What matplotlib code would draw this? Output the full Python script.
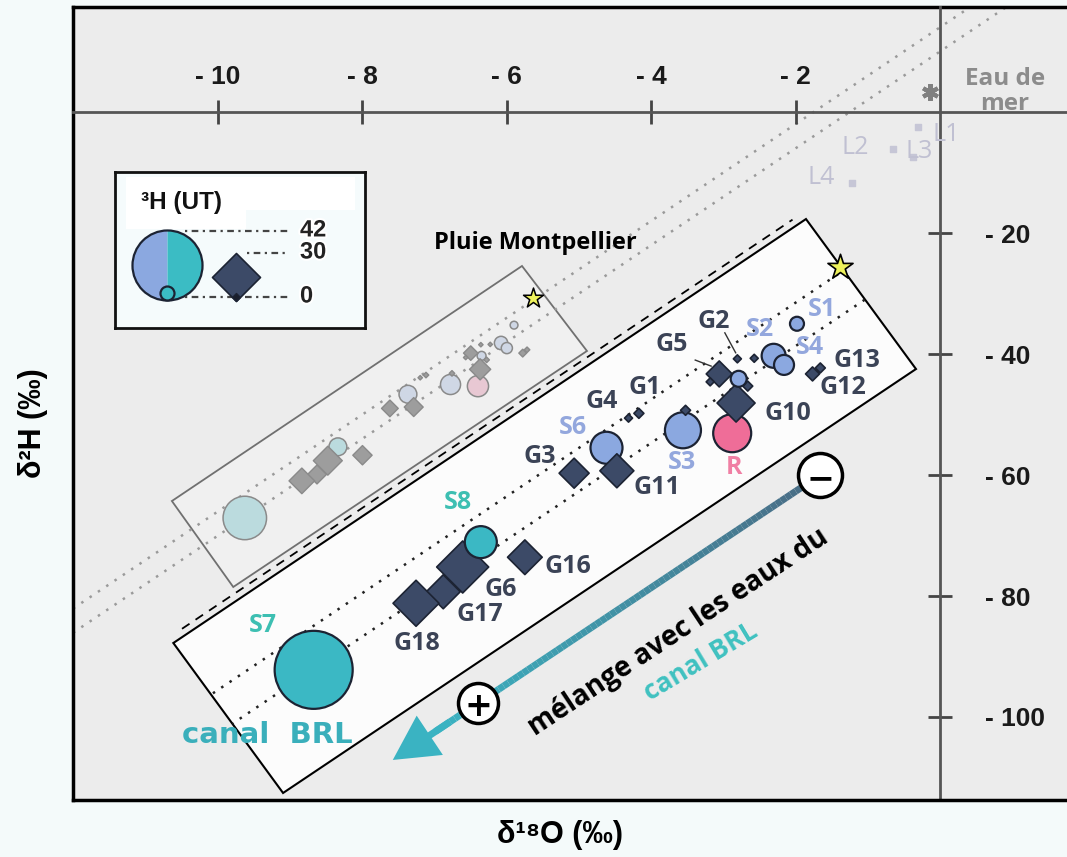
import numpy as np
import matplotlib
matplotlib.use('Agg')
import matplotlib.pyplot as plt
import matplotlib.patheffects as pe
from matplotlib.patches import Polygon, Rectangle, FancyArrowPatch
from matplotlib.collections import LineCollection
from matplotlib.colors import LinearSegmentedColormap, to_rgb
from matplotlib.ticker import FuncFormatter

# ---- data (delta values in permil, tritium in UT) ----
circle_names = ['S6', 'S3', 'R', 'S2', 'S4', 'S1', '', 'S8', 'S7']
circle_d18o = [-7.37, -6.78, -6.40, -6.08, -6.00, -5.90, -6.35, -8.34, -9.63]
circle_d2h = [-46.65, -45.04, -45.31, -38.18, -39.02, -35.23, -40.30, -55.34, -67.10]
circle_h3 = [13.5, 16.5, 18.0, 7.5, 4.5, 0.0, 1.5, 13.5, 48.0]
circle_group = ['S', 'S', 'R', 'S', 'S', 'S', 'S', 'BRL', 'BRL']

diamond_names = ['G1', 'G2', 'G3', 'G4', 'G5', 'G6', 'G10', 'G11', 'G12', 'G13',
                 'G16', 'G17', 'G18', '', '', '', '']
diamond_d18o = [-7.12, -6.36, -7.62, -7.20, -6.50, -8.48, -6.37, -7.29, -5.78, -5.72,
                -8.00, -8.63, -8.84, -6.23, -6.57, -6.28, -6.76]
diamond_d2h = [-43.48, -38.46, -48.99, -43.92, -39.85, -57.63, -42.53, -48.77, -39.85, -39.30,
               -56.73, -59.91, -60.97, -38.41, -40.58, -40.97, -43.20]
diamond_h3 = [1.5, 0.0, 16.5, 0.0, 13.5, 33.0, 22.5, 19.5, 4.5, 1.5,
              20.0, 19.5, 28.5, 0.0, 0.0, 1.5, 1.5]

lake_names = ['L1', 'L2', 'L3', 'L4']
lake_d18o = [-0.30, -0.65, -0.37, -1.22]
lake_d2h = [-2.5, -6.1, -7.4, -11.7]

rain_montpellier = (-5.64, -30.74)
sea_water = (-0.14, 3.3)
line_excess = [14, 10]          # d2H = 8 d18O + d
legend_h3_circle = [42, 0]
legend_h3_diamond = [30, 0]

# ---- layout ----
ZOOM_CENTER = (-10.83, -35.52)
ZOOM = 1.795
PT = 72 / 100

grey_box = [(-5.79, -25.45), (-4.89, -39.50), (-9.79, -78.51), (-10.64, -64.30)]
big_box = [(-1.856, -17.69), (-0.332, -42.48), (-9.10, -112.56), (-10.62, -87.77)]
rain_inset = (-1.385, -25.62)

label_pos = {
    'S1': (-1.63, -32.7), 'G2': (-3.14, -34.7), 'S2': (-2.49, -36.0), 'G5': (-3.71, -38.5),
    'S4': (-1.80, -39.0), 'G13': (-1.15, -41.0), 'G12': (-1.34, -45.5), 'G1': (-4.09, -45.5),
    'G4': (-4.68, -47.9), 'G10': (-2.11, -49.8), 'S3': (-3.57, -58.0), 'R': (-2.85, -58.8),
    'G11': (-3.92, -62.1), 'S6': (-5.08, -52.1), 'G3': (-5.54, -57.0), 'S8': (-6.68, -64.5),
    'G16': (-5.15, -75.2), 'G6': (-6.09, -79.0), 'G17': (-6.37, -83.1), 'G18': (-7.24, -87.8),
    'S7': (-9.38, -84.8),
}
leaders = {'G2': ((-2.98, -36.5), (-2.83, -39.8)), 'G5': ((-3.39, -41.0), (-3.17, -42.0))}

fill = {'S': '#8ba8e0', 'R': '#ef6d98', 'BRL': '#3bb8c4', 'G': '#3c4a67'}
text_col = {'S': '#93a7dd', 'R': '#f07fa4', 'BRL': '#3dbfb2', 'G': '#3b4356'}
EDGE = '#1c2333'
BG = '#ececec'

plt.rcParams['font.family'] = ['Liberation Sans', 'DejaVu Sans']
plt.rcParams['font.weight'] = 'bold'
LABEL_FONT = ['Open Sans', 'DejaVu Sans']


def inset(x, y):
    cx, cy = ZOOM_CENTER
    return cx + ZOOM * (np.asarray(x) - cx), cy + ZOOM * (np.asarray(y) - cy)


def marker_area(h3, kind, scale=1.0):
    h3 = np.asarray(h3, dtype=float)
    if kind == 'o':
        ms = 2 * (7 + 0.667 * h3) * scale * PT
    else:
        ms = (4 + 0.667 * h3) * scale * PT / 0.7071
    return ms ** 2


def fade(color, k=0.75):
    c = np.array(to_rgb(color))
    return tuple((1 - k) * c + k * np.array(to_rgb('#e6e6e6')))


fig = plt.figure(figsize=(10.67, 8.57), dpi=100, facecolor='#f4fafa')
ax = fig.add_axes([73 / 1067, 57 / 857, 994 / 1067, 793 / 857])
ax.set_facecolor(BG)
ax.set_xlim(-12.01, 1.76)
ax.set_ylim(-113.72, 17.36)

# axes crossing at zero, frame on the other sides
for s in ['left', 'bottom']:
    ax.spines[s].set_linewidth(2.5)
    ax.spines[s].set_color('black')
for s in ['top', 'right']:
    ax.spines[s].set_position(('data', 0))
    ax.spines[s].set_linewidth(2)
    ax.spines[s].set_color('#555555')
ax.plot([0, 1], [1, 1], transform=ax.transAxes, color='black', lw=2.5, clip_on=False)
ax.xaxis.set_ticks_position('top')
ax.yaxis.set_ticks_position('right')
ax.set_xticks([-10, -8, -6, -4, -2])
ax.set_yticks([-20, -40, -60, -80, -100])
fmt = FuncFormatter(lambda v, _: f'- {abs(v):g}')
ax.xaxis.set_major_formatter(fmt)
ax.yaxis.set_major_formatter(fmt)
ax.tick_params(direction='inout', length=17, width=2, color='#444444',
               labelsize=19, labelcolor='#1a1a1a')
ax.tick_params(axis='x', pad=8)
ax.tick_params(axis='y', pad=24)

# meteoric lines and the original-scale box
xs = np.array(ax.get_xlim())
for d in line_excess:
    ax.plot(xs, 8 * xs + d, ls=(0, (1, 3)), color='#9a9a9a', lw=1.8, zorder=1)
ax.add_patch(Polygon(grey_box, closed=True, fc='#f0f0f0', ec='#707070', lw=1.3, zorder=0.5))

# faded samples at their true position
ax.scatter(circle_d18o, circle_d2h, s=marker_area(circle_h3, 'o', 1 / ZOOM), marker='o',
           c=[fade(fill[g]) for g in circle_group], edgecolors='#8a8a8a', linewidths=1.1, zorder=3)
ax.scatter(diamond_d18o, diamond_d2h, s=marker_area(diamond_h3, 'D', 1 / ZOOM), marker='D',
           c='#9d9d9d', edgecolors='#8a8a8a', linewidths=1.0, zorder=3)
ax.scatter(*rain_montpellier, marker='*', s=(19 * PT * 1.1) ** 2, c='#eef25c',
           edgecolors='black', linewidths=1.1, zorder=3.5)

# magnified inset box
big = Polygon(big_box, closed=True, fc='#fcfcfc', ec='black', lw=1.5, zorder=4)
ax.add_patch(big)
p0, p1 = np.array(big_box[3]), np.array(big_box[0])
off = np.array([-0.055, 0.95])
seg = np.array([p0 + 0.02 * (p1 - p0), p0 + 0.985 * (p1 - p0)]) + off
ax.plot(seg[:, 0], seg[:, 1], ls=(0, (5, 4)), color='black', lw=1.3, zorder=4)
for d in line_excess:
    lx, ly = inset(xs, 8 * xs + d)
    ln, = ax.plot(lx, ly, ls=(0, (1, 3)), color='#222222', lw=1.8, zorder=5)
    ln.set_clip_path(big)
ax.scatter(*rain_inset, marker='*', s=(24 * PT * 1.1) ** 2, c='#eef25c',
           edgecolors='black', linewidths=1.2, zorder=6)

# magnified samples
front = [n in ('S8', '') for n in circle_names]
mx, my = inset(circle_d18o, circle_d2h)
areas = marker_area(circle_h3, 'o')
cols = [fill[g] for g in circle_group]
for on_top in (False, True):
    idx = [i for i, f in enumerate(front) if f == on_top]
    ax.scatter(mx[idx], my[idx], s=areas[idx], marker='o', c=[cols[i] for i in idx],
               edgecolors=EDGE, linewidths=1.6, zorder=8 if on_top else 6)
dx, dy = inset(diamond_d18o, diamond_d2h)
ax.scatter(dx, dy, s=marker_area(diamond_h3, 'D'), marker='D', c=fill['G'],
           edgecolors=EDGE, linewidths=1.2, zorder=7)

for name, grp in zip(circle_names + diamond_names,
                     circle_group + ['G'] * len(diamond_names)):
    if not name:
        continue
    tx, ty = label_pos[name]
    ax.text(tx, ty, name, color=text_col[grp], fontsize=18, family=LABEL_FONT,
            ha='center', va='center', zorder=9)
for (a, b) in leaders.values():
    ax.plot([a[0], b[0]], [a[1], b[1]], color='#333333', lw=1, zorder=8)

ax.text(-9.32, -102.98, 'canal  BRL', color='#3aafbb', fontsize=21,
        family='DejaVu Sans', ha='center', va='center', zorder=9)
ax.text(-5.61, -21.65, 'Pluie Montpellier', color='black', fontsize=17,
        family=LABEL_FONT, ha='center', va='center', zorder=9)

# sea water and lakes
ax.plot(*sea_water, marker=(6, 2, 0), ms=12, mew=3, color='#808080', zorder=6, clip_on=False)
ax.text(0.90, 3.4, 'Eau de\nmer', color='#8c8c8c', fontsize=17.5, family=LABEL_FONT,
        ha='center', va='center', linespacing=1.05)
ax.scatter(lake_d18o, lake_d2h, marker='s', s=(6 * PT) ** 2, c='#c6c6d6', zorder=5)
lake_offsets = {'L1': (20, -5), 'L2': (-27, 1), 'L3': (4, 4), 'L4': (-22, 4)}
for n, x, y in zip(lake_names, lake_d18o, lake_d2h):
    ax.annotate(n, (x, y), xytext=lake_offsets[n], textcoords='offset points',
                color='#c0c0d2', fontsize=18, fontweight='normal', family=LABEL_FONT,
                ha='center', va='center', zorder=5)

# mixing arrow
start = np.array([-1.66, -60.0])
tip = np.array([-7.58, -107.1])
t = np.linspace(0, 0.9, 80)
pts = start + t[:, None] * (tip - start)
segs = np.stack([pts[:-1], pts[1:]], axis=1)
cmap = LinearSegmentedColormap.from_list('mix', ['#4a6b84', '#3ab3c2'])
ax.add_collection(LineCollection(segs, colors=cmap(np.linspace(0, 1, len(segs))),
                                 linewidths=5, capstyle='butt', zorder=7))
ax.add_patch(FancyArrowPatch(pts[-4], tip, arrowstyle='simple,head_length=3.2,head_width=3.4,tail_width=0.5',
                             mutation_scale=10, color='#3ab3c2', lw=0, shrinkA=0, shrinkB=0, zorder=7))
for pos, sym, r in [(start, '−', 22), (start + 0.80 * (tip - start), '+', 20)]:
    ax.scatter(*pos, s=(2 * r * PT) ** 2, c='white', edgecolors='black', linewidths=2.5, zorder=9)
    ax.text(*pos, sym, fontsize=24, family='DejaVu Sans', ha='center', va='center_baseline',
            color='black', zorder=10)

ax.text(-3.63, -85.95, 'mélange avec les eaux du', rotation=33.5, rotation_mode='anchor',
        fontsize=20, family=LABEL_FONT, color='black', ha='center', va='center', zorder=9)
ax.text(-3.32, -90.9, 'canal BRL', rotation=31, rotation_mode='anchor', fontsize=19,
        family=LABEL_FONT, color='#3fc1c0', ha='center', va='center', zorder=9)

# axis titles
fig.text(560 / 1067, 1 - 835 / 857, 'δ¹⁸O (‰)', ha='center', va='center', fontsize=22)
fig.text(33 / 1067, 1 - 423 / 857, 'δ²H (‰)', ha='center', va='center', fontsize=22, rotation=90)

# tritium size legend
lg = fig.add_axes([115 / 1067, 1 - 328 / 857, 250 / 1067, 156 / 857])
lg.set_xlim(0, 250)
lg.set_ylim(156, 0)
lg.set_facecolor('#f5fbfc')
lg.set_xticks([])
lg.set_yticks([])
for s in lg.spines.values():
    s.set_linewidth(2)
    s.set_color('#111111')
lg.add_patch(Rectangle((11, 5), 229, 33, fc='white', ec='none'))
lg.add_patch(Rectangle((11, 38), 120, 19, fc='white', ec='none'))
lg.text(26, 31, '³H (UT)', fontsize=17.5, ha='left', va='center', color='#111111')

base_c, base_d = 128, 129
r_big = 7 + 0.667 * legend_h3_circle[0]
r_small = 7 + 0.667 * legend_h3_circle[1]
lg.plot([52], [base_c - r_big], marker='o', ms=2 * r_big * PT, fillstyle='left', mew=0,
        markerfacecolor=fill['S'], markerfacecoloralt='#3bbcc4')
lg.plot([52], [base_c - r_big], marker='o', ms=2 * r_big * PT, mfc='none',
        markeredgecolor=EDGE, mew=1.6)
lg.scatter([52], [base_c - r_small], s=marker_area(legend_h3_circle[1], 'o'), c='#3bbcc4',
           edgecolors=EDGE, linewidths=1.6, zorder=3)
h_big = 4 + 0.667 * legend_h3_diamond[0]
h_small = 4 + 0.667 * legend_h3_diamond[1]
lg.scatter([121], [base_d - h_big], s=marker_area(legend_h3_diamond[0], 'D'), marker='D',
           c=fill['G'], edgecolors=EDGE, linewidths=1.2, zorder=3)
lg.scatter([121], [base_d - h_small], s=marker_area(legend_h3_diamond[1], 'D'), marker='D',
           c='#1a1f2c', edgecolors=EDGE, linewidths=1, zorder=4)
leader_style = dict(ls=(0, (1, 2, 3, 2)), color='#444444', lw=1.6, zorder=2)
rows = [(legend_h3_circle[0], base_c - 2 * r_big + 1, 70),
        (legend_h3_diamond[0], base_d - 2 * h_big, 132),
        (legend_h3_circle[1], base_d - h_small, 70)]
halo = [pe.withStroke(linewidth=3, foreground='white')]
for val, y, x0 in rows:
    lg.plot([x0, 173], [y, y], **leader_style)
    lg.text(185, y - 1, f'{val:g}', fontsize=17, ha='left', va='center',
            color='#222222', path_effects=halo)

fig.savefig('out.png', dpi=100, facecolor=fig.get_facecolor())
